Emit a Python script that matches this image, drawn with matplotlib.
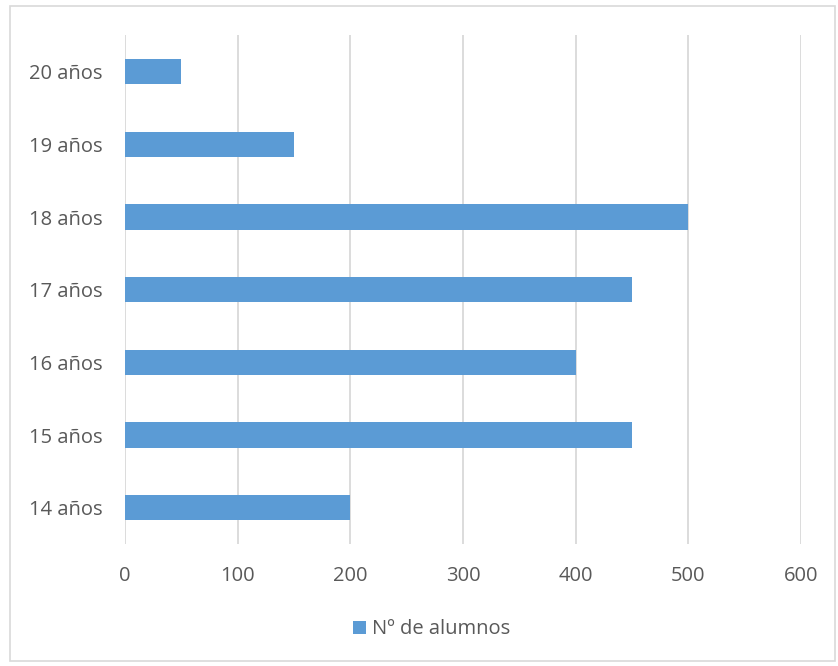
import matplotlib.pyplot as plt
from matplotlib.patches import Rectangle

# Data
categories = ["14 años", "15 años", "16 años", "17 años", "18 años", "19 años", "20 años"]
alumnos = [200, 450, 400, 450, 500, 150, 50]
x_ticks = [0, 100, 200, 300, 400, 500, 600]
series_name = "Nº de alumnos"

bar_color = "#5B9BD5"
text_color = "#595959"
grid_color = "#D9D9D9"

plt.rcParams["font.family"] = ["Open Sans", "DejaVu Sans"]

fig = plt.figure(figsize=(8.38, 6.66), dpi=100)
ax = fig.add_axes([0.149, 0.183, 0.807, 0.764])

y = range(len(categories))
ax.barh(y, alumnos, height=0.35, color=bar_color, label=series_name, zorder=3)

ax.set_xlim(0, 600)
ax.set_ylim(-0.5, len(categories) - 0.5)
ax.set_xticks(x_ticks)
ax.set_yticks(list(y))
ax.set_yticklabels(categories)
ax.grid(axis="x", color=grid_color, linewidth=1.3, zorder=0)
ax.tick_params(axis="both", length=0, labelsize=14.5, labelcolor=text_color)
ax.tick_params(axis="x", pad=16)
ax.tick_params(axis="y", pad=16)
for s in ax.spines.values():
    s.set_visible(False)

leg = fig.legend(loc="center", bbox_to_anchor=(0.515, 0.055), frameon=False,
                 fontsize=14.5, handlelength=0.65, handleheight=0.65, handletextpad=0.3)
for t in leg.get_texts():
    t.set_color(text_color)

# chart border
fig.patches.append(Rectangle((0.012, 0.008), 0.985, 0.983, transform=fig.transFigure,
                             fill=False, edgecolor="#D9D9D9", linewidth=1.2))

fig.savefig("out.png", dpi=100)
